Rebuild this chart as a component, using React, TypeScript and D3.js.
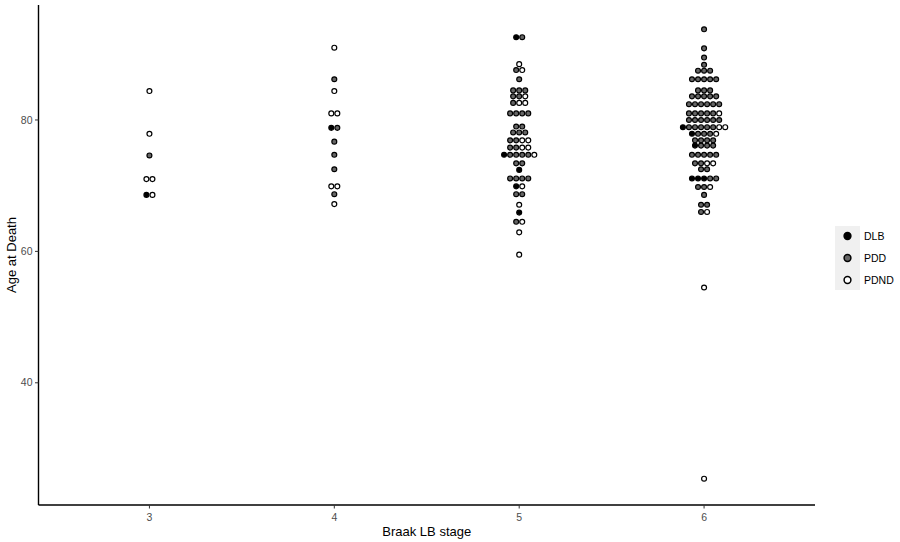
import React from 'react';
import * as d3 from 'd3';

// Braak LB stage categories and groups
const stages = ['3', '4', '5', '6'];
const groups = ['DLB', 'PDD', 'PDND'];
const groupFill = ['#000000', '#666666', '#ffffff'];
const yTicks = [40, 60, 80];

// each stage: bin ages (rows of the dotplot) + number of cases per group in that bin
const stage3Ages = [84.4, 77.9, 74.6, 71.0, 68.6];
const stage3DLB = [0, 0, 0, 0, 1];
const stage3PDD = [0, 0, 1, 0, 0];
const stage3PDND = [1, 1, 0, 2, 1];

const stage4Ages = [91.0, 86.2, 84.4, 81.0, 78.8, 76.7, 74.7, 72.5, 69.9, 68.7, 67.2];
const stage4DLB = [0, 0, 0, 0, 1, 0, 0, 0, 0, 0, 0];
const stage4PDD = [0, 1, 0, 0, 1, 1, 1, 1, 0, 1, 0];
const stage4PDND = [1, 0, 1, 2, 0, 0, 0, 0, 2, 0, 1];

const stage5Ages = [92.6, 88.5, 87.6, 86.2, 84.5, 83.6, 82.6, 81.0, 79.0, 78.1, 76.9, 75.8, 74.7, 73.4, 72.4, 71.1, 69.9, 68.7, 67.1, 65.9, 64.5, 62.9, 59.5];
const stage5DLB = [1, 0, 0, 0, 0, 0, 0, 0, 0, 0, 0, 0, 1, 0, 1, 0, 1, 0, 0, 1, 0, 0, 0];
const stage5PDD = [1, 0, 1, 1, 3, 2, 1, 4, 2, 3, 2, 2, 4, 2, 0, 4, 0, 2, 0, 0, 1, 0, 0];
const stage5PDND = [0, 1, 1, 0, 0, 1, 2, 0, 0, 0, 2, 2, 1, 0, 0, 0, 1, 0, 1, 0, 1, 1, 1];

const stage6Ages = [93.8, 90.9, 89.5, 88.4, 87.5, 86.2, 84.5, 83.6, 82.4, 81.0, 80.0, 78.9, 77.9, 76.9, 76.1, 74.7, 73.4, 72.5, 71.1, 69.8, 68.6, 67.1, 66.0, 54.5, 25.4];
const stage6DLB = [0, 0, 0, 0, 0, 0, 0, 0, 0, 0, 0, 1, 1, 0, 1, 0, 0, 0, 3, 0, 0, 0, 0, 0, 0];
const stage6PDD = [1, 1, 1, 1, 3, 5, 3, 5, 6, 5, 6, 5, 3, 4, 3, 5, 2, 2, 2, 2, 1, 2, 1, 0, 0];
const stage6PDND = [0, 0, 0, 0, 0, 0, 0, 0, 0, 1, 0, 2, 1, 0, 0, 0, 2, 0, 0, 1, 0, 0, 1, 1, 1];

const stageRows = [
  [stage3Ages, stage3DLB, stage3PDD, stage3PDND],
  [stage4Ages, stage4DLB, stage4PDD, stage4PDND],
  [stage5Ages, stage5DLB, stage5PDD, stage5PDND],
  [stage6Ages, stage6DLB, stage6PDD, stage6PDND],
];

const binwidth = 0.92;

export default function App() {
  const width = 900;
  const height = 542;
  const left = 38.5;
  const right = 815;
  const top = 5;
  const bottom = 505;

  const x = d3.scalePoint().domain(stages).range([left, right]).padding(0.6);
  const y = d3.scaleLinear().domain([21.4, 97.5]).range([bottom, top]);
  const step = y(0) - y(binwidth);

  // stack each bin centred on the stage, groups ordered left to right
  const dots: { cx: number; cy: number; g: number }[] = [];
  stageRows.forEach(([ages, dlb, pdd, pdnd], si) => {
    ages.forEach((age, i) => {
      const counts = [dlb[i], pdd[i], pdnd[i]];
      const n = d3.sum(counts);
      let k = 0;
      counts.forEach((c, g) => {
        for (let j = 0; j < c; j++) {
          dots.push({ cx: x(stages[si])! + (k - (n - 1) / 2) * step, cy: y(age), g });
          k++;
        }
      });
    });
  });

  const font = 'Liberation Sans, Arial, sans-serif';

  return (
    <svg width={width} height={height} style={{ position: 'absolute', left: 0, top: 0, background: '#fff' }} fontFamily={font}>
      {/* dots */}
      {dots.map((d, i) => (
        <circle key={i} cx={d.cx} cy={d.cy} r={2.45} fill={groupFill[d.g]} stroke="#000" strokeWidth={1.2} />
      ))}

      {/* axes */}
      <line x1={left} x2={left} y1={top} y2={bottom} stroke="#000" strokeWidth={1.4} />
      <line x1={left} x2={right} y1={bottom} y2={bottom} stroke="#000" strokeWidth={1.4} />
      {yTicks.map((t) => (
        <g key={t}>
          <line x1={left - 3.5} x2={left} y1={y(t)} y2={y(t)} stroke="#333" strokeWidth={1} />
          <text x={left - 6} y={y(t)} dy="0.35em" textAnchor="end" fontSize={10.5} fill="#4d4d4d">{t}</text>
        </g>
      ))}
      {stages.map((s) => (
        <g key={s}>
          <line x1={x(s)} x2={x(s)} y1={bottom} y2={bottom + 3.5} stroke="#333" strokeWidth={1} />
          <text x={x(s)} y={bottom + 16} textAnchor="middle" fontSize={10.5} fill="#4d4d4d">{s}</text>
        </g>
      ))}
      <text x={(left + right) / 2} y={536} textAnchor="middle" fontSize={13} fill="#000">Braak LB stage</text>
      <text transform={`translate(16,${(top + bottom) / 2}) rotate(-90)`} textAnchor="middle" fontSize={13} fill="#000">Age at Death</text>

      {/* legend */}
      <rect x={835} y={226} width={25} height={64} fill="#f0f0f0" />
      {groups.map((g, i) => (
        <g key={g}>
          <circle cx={847.5} cy={236 + i * 22} r={3.4} fill={groupFill[i]} stroke="#000" strokeWidth={1.5} />
          <text x={864} y={236 + i * 22} dy="0.35em" fontSize={10.5} fill="#000">{g}</text>
        </g>
      ))}
    </svg>
  );
}
